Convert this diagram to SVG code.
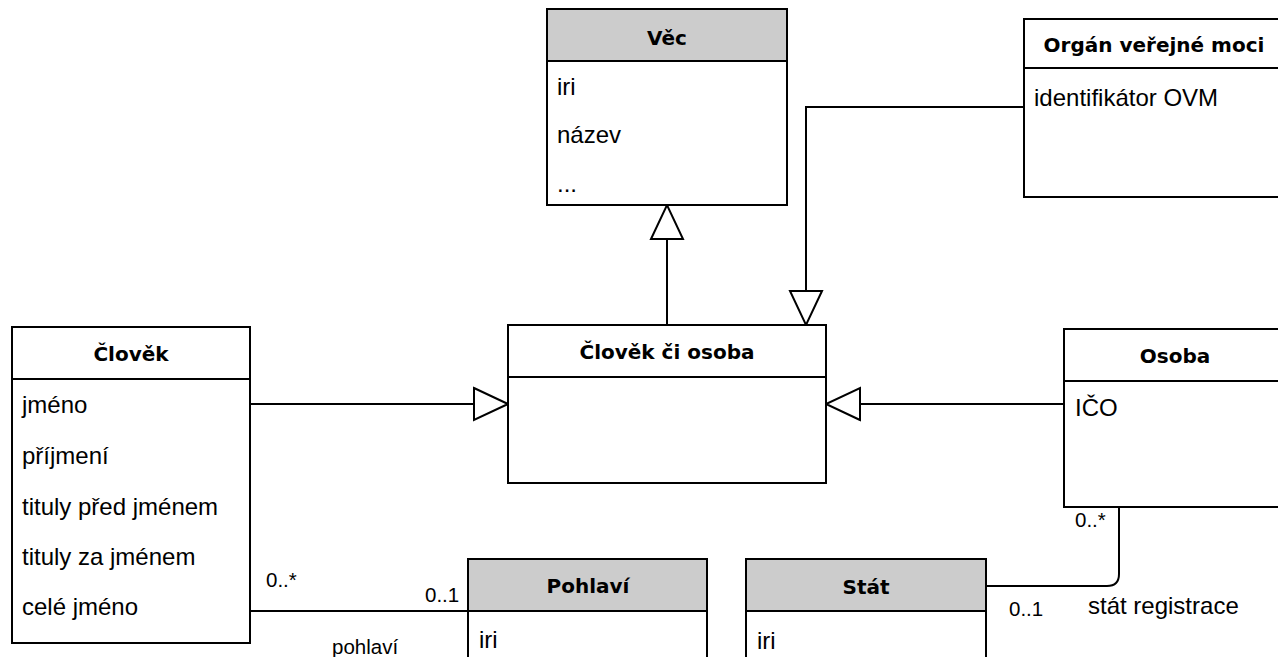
<svg xmlns="http://www.w3.org/2000/svg" width="1278" height="657" viewBox="0 0 1278 657">
  <style>
    .box { fill: #ffffff; stroke: #000000; stroke-width: 2; }
    .head { fill: #ffffff; stroke: #000000; stroke-width: 2; }
    .head.grey { fill: #cccccc; }
    .title { font-family: "DejaVu Sans", Verdana, sans-serif; font-weight: bold; font-size: 20px; fill: #000; text-anchor: middle; }
    .attr { font-family: "Liberation Sans", Arial, sans-serif; font-size: 24px; fill: #000; }
    .lbl { font-family: "Liberation Sans", Arial, sans-serif; font-size: 20.5px; fill: #000; }
    .edge { fill: none; stroke: #000000; stroke-width: 2; }
  </style>
  <defs>
    <marker id="gen" markerUnits="userSpaceOnUse" markerWidth="40" markerHeight="40" refX="36" refY="18" orient="auto" viewBox="0 0 40 40">
      <path d="M2,2 L36,18 L2,34 Z" fill="#ffffff" stroke="#000000" stroke-width="2"/>
    </marker>
  </defs>
  <rect width="1278" height="657" fill="#ffffff"/>

  <!-- connectors -->
  <g id="connectors">
    <path class="edge" d="M667,325 V205" marker-end="url(#gen)"/>
    <path class="edge" d="M1024,107 H806 V325" marker-end="url(#gen)"/>
    <path class="edge" d="M250,404 H508" marker-end="url(#gen)"/>
    <path class="edge" d="M1064,404 H826" marker-end="url(#gen)"/>
    <path class="edge" d="M250,611 H468"/>
    <path class="edge" d="M1119,507 V574 Q1119,586 1107,586 H986"/>
    <text class="lbl" x="266" y="587">0..*</text>
    <text class="lbl" x="425" y="602">0..1</text>
    <text class="lbl" x="332" y="654">pohlaví</text>
    <text class="lbl" x="1075" y="527">0..*</text>
    <text class="lbl" x="1009" y="616">0..1</text>
    <text class="attr" x="1088" y="614">stát registrace</text>
  </g>

  <!-- Věc -->
  <g id="vec">
    <rect class="box" x="547" y="9" width="240" height="196"/>
    <rect class="head grey" x="547" y="9" width="240" height="52"/>
    <text class="title" x="667" y="45">Věc</text>
    <text class="attr" x="557" y="95">iri</text>
    <text class="attr" x="557" y="143">název</text>
    <text class="attr" x="557" y="192">...</text>
  </g>

  <!-- Orgán veřejné moci -->
  <g id="organ">
    <rect class="box" x="1024" y="19" width="270" height="178"/>
    <rect class="head" x="1024" y="19" width="270" height="49"/>
    <text class="title" x="1154" y="52">Orgán veřejné moci</text>
    <text class="attr" x="1034" y="106">identifikátor OVM</text>
  </g>

  <!-- Člověk -->
  <g id="clovek">
    <rect class="box" x="12" y="327" width="238" height="316"/>
    <rect class="head" x="12" y="327" width="238" height="52"/>
    <text class="title" x="131" y="361">Člověk</text>
    <text class="attr" x="22" y="413">jméno</text>
    <text class="attr" x="22" y="464">příjmení</text>
    <text class="attr" x="22" y="515">tituly před jménem</text>
    <text class="attr" x="22" y="565">tituly za jménem</text>
    <text class="attr" x="22" y="615">celé jméno</text>
  </g>

  <!-- Člověk či osoba -->
  <g id="clovek-ci-osoba">
    <rect class="box" x="508" y="325" width="318" height="158"/>
    <rect class="head" x="508" y="325" width="318" height="52"/>
    <text class="title" x="667" y="359">Člověk či osoba</text>
  </g>

  <!-- Osoba -->
  <g id="osoba">
    <rect class="box" x="1064" y="329" width="230" height="178"/>
    <rect class="head" x="1064" y="329" width="230" height="52"/>
    <text class="title" x="1175" y="363">Osoba</text>
    <text class="attr" x="1075" y="416">IČO</text>
  </g>

  <!-- Pohlaví -->
  <g id="pohlavi">
    <rect class="box" x="468" y="559" width="239" height="120"/>
    <rect class="head grey" x="468" y="559" width="239" height="52"/>
    <text class="title" x="588" y="593">Pohlaví</text>
    <text class="attr" x="479" y="648">iri</text>
  </g>

  <!-- Stát -->
  <g id="stat">
    <rect class="box" x="746" y="559" width="240" height="120"/>
    <rect class="head grey" x="746" y="559" width="240" height="52"/>
    <text class="title" x="866" y="594">Stát</text>
    <text class="attr" x="757" y="649">iri</text>
  </g>
</svg>
